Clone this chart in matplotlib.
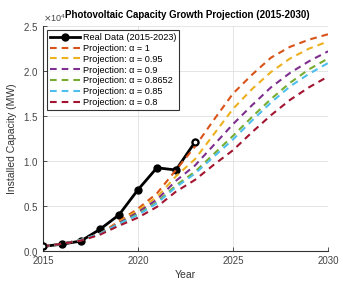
import numpy as np
import matplotlib.pyplot as plt
from matplotlib.ticker import ScalarFormatter

# real installed capacity (MW)
years_real = [2015, 2016, 2017, 2018, 2019, 2020, 2021, 2022, 2023]
cap_real = [500, 750, 1100, 2400, 4000, 6800, 9250, 9000, 12100]

# projections (MW)
years_proj = list(range(2015, 2031))
alphas = ['1', '0.95', '0.9', '0.8652', '0.85', '0.8']
proj_a100 = [500, 800, 1200, 1900, 3300, 4700, 6400, 9000, 11600, 14600, 17500, 19600, 21500, 22700, 23500, 24100]
proj_a095 = [500, 800, 1200, 1900, 3200, 4500, 6000, 8300, 10200, 13000, 15800, 18000, 19900, 21400, 22500, 23300]
proj_a090 = [500, 800, 1200, 1900, 3100, 4300, 5700, 7800, 9500, 11800, 14100, 16200, 18200, 19800, 21100, 22200]
proj_a0865 = [500, 800, 1200, 1900, 3000, 4100, 5400, 7300, 8800, 10800, 12800, 14900, 16900, 18700, 20200, 21400]
proj_a085 = [500, 800, 1200, 1900, 3000, 4000, 5300, 7100, 8600, 10500, 12400, 14500, 16500, 18300, 19700, 20900]
proj_a080 = [500, 800, 1150, 1800, 2800, 3700, 4900, 6600, 7900, 9600, 11200, 13200, 15100, 16800, 18200, 19400]
proj_all = [proj_a100, proj_a095, proj_a090, proj_a0865, proj_a085, proj_a080]

colors = ['#D95319', '#EDB120', '#7E2F8E', '#77AC30', '#4DBEEE', '#A2142F']

plt.rcParams.update({'font.family': 'Liberation Sans', 'font.size': 7})

fig = plt.figure(figsize=(3.57, 2.81), dpi=100)
ax = fig.add_axes([0.12, 0.107, 0.799, 0.8])

ax.plot(years_real, cap_real, color='black', linewidth=2, marker='o', markersize=5,
        label='Real Data (2015-2023)', zorder=3)
ax.plot([years_real[0], years_real[-1]], [cap_real[0], cap_real[-1]], linestyle='none',
        marker='o', markersize=4, markerfacecolor='white', markeredgecolor='black',
        markeredgewidth=1.3, zorder=5)
for a, vals, c in zip(alphas, proj_all, colors):
    ax.plot(years_proj, vals, color=c, linestyle=(0, (3.2, 2.4)), linewidth=1.5,
            label='Projection: \u03b1 = ' + a, zorder=4)

ax.set_xlim(2015, 2030)
ax.set_ylim(0, 25000)
ax.set_xticks([2015, 2020, 2025, 2030])
ax.set_yticks(np.arange(0, 25001, 5000))

fmt = ScalarFormatter(useMathText=True)
fmt.set_powerlimits((4, 4))
ax.yaxis.set_major_formatter(fmt)
ax.yaxis.get_offset_text().set_fontsize(6.5)
ax.yaxis.get_offset_text().set_color('#555555')

ax.grid(True, color='#e0e0e0', linewidth=0.6)
ax.set_axisbelow(True)
for s in ['top', 'right']:
    ax.spines[s].set_visible(False)
for s in ['left', 'bottom']:
    ax.spines[s].set_color('#333333')
    ax.spines[s].set_linewidth(0.8)
ax.tick_params(colors='#333333', labelcolor='#444444', length=3, width=0.6, direction='in')

ax.set_xlabel('Year', fontsize=7.5, color='#333333', labelpad=3)
ax.set_ylabel('Installed Capacity (MW)', fontsize=7.5, color='#333333', labelpad=4)
fig.text(0.525, 0.945, 'Photovoltaic Capacity Growth Projection (2015-2030)', fontsize=7,
         fontweight='bold', ha='center', va='center')

leg = ax.legend(loc='upper left', fontsize=6.6, frameon=True, fancybox=False,
                edgecolor='black', handlelength=3.3, handletextpad=0.3,
                labelspacing=0.2, borderpad=0.3, borderaxespad=0.45)
leg.get_frame().set_linewidth(0.8)

fig.savefig('out.png', dpi=100)
